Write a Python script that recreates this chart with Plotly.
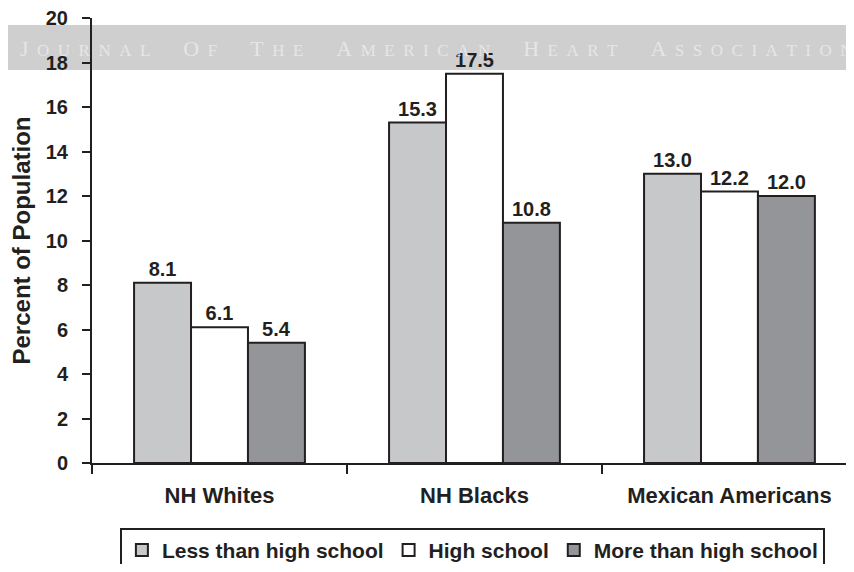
import plotly.graph_objects as go

categories = ["NH Whites", "NH Blacks", "Mexican Americans"]
series_names = ["Less than high school", "High school", "More than high school"]
less_than_hs = [8.1, 15.3, 13.0]
high_school = [6.1, 17.5, 12.2]
more_than_hs = [5.4, 10.8, 12.0]
y_ticks = [0, 2, 4, 6, 8, 10, 12, 14, 16, 18, 20]
watermark = "JOURNAL OF THE AMERICAN HEART ASSOCIATION"

FONT = "Liberation Sans, Arial"
INK = "#231f20"
colors = ["#c7c8ca", "#ffffff", "#939598"]
xpos = list(range(len(categories)))

GAP = "<span style='font-size:17px'>\u2002</span>"


def small_caps(s):
    # letter-spaced small caps, like the journal's banner
    out = []
    for word in s.split(" "):
        letters = [word[0]] + [f"<span style='font-size:17px'>{ch}</span>" for ch in word[1:]]
        out.append(GAP.join(letters))
    return "\u2003\u2002".join(out)


fig = go.Figure()

# faint journal watermark, drawn first so the bars sit on top of it
fig.add_trace(go.Scatter(
    x=[0.85], y=[18.56], mode="text", text=[small_caps(watermark)],
    textfont=dict(family="Liberation Serif, DejaVu Serif", size=22, color="#e6e6e6"),
    showlegend=False, hoverinfo="skip", cliponaxis=False))

for name, vals, c in zip(series_names, [less_than_hs, high_school, more_than_hs], colors):
    fig.add_trace(go.Bar(
        x=xpos, y=vals, name=name,
        marker=dict(color=c, line=dict(color=INK, width=2)),
        text=[f"<b>{v:.1f}</b>" for v in vals], textposition="outside",
        textfont=dict(family=FONT, size=20, color=INK),
        cliponaxis=False))

fig.update_layout(
    width=838, height=556,
    barmode="group", bargap=0.33, bargroupgap=0,
    paper_bgcolor="white", plot_bgcolor="rgba(0,0,0,0)",
    margin=dict(l=84, r=0, t=10, b=101, autoexpand=False),
    font=dict(family=FONT, size=20, color=INK),
    showlegend=True,
    legend=dict(orientation="h", x=0.037, y=-0.146, xanchor="left", yanchor="top",
                bordercolor=INK, borderwidth=2, bgcolor="white",
                font=dict(family=FONT, size=21, color=INK, weight="bold"),
                itemwidth=30, traceorder="normal"),
    shapes=[dict(type="rect", xref="paper", yref="paper", x0=-0.12, x1=1.01,
                 y0=(455 - 62) / 445, y1=(455 - 17) / 445,
                 fillcolor="#cfcfcf", line=dict(width=0), layer="below")],
    annotations=[dict(text="<b>Percent of Population</b>", textangle=-90,
                      xref="paper", yref="paper", x=(13 - 84) / 754, y=0.5,
                      xanchor="center", yanchor="middle", showarrow=False,
                      font=dict(family=FONT, size=24, color=INK))],
)

fig.update_xaxes(
    range=[-0.5, 2.457], tickvals=xpos, ticktext=[f"<b>{c}</b>" for c in categories], ticks="",
    showline=True, linecolor=INK, linewidth=2, showgrid=False, zeroline=False,
    tickfont=dict(family=FONT, size=22, color=INK), automargin=False,
    minor=dict(tickvals=[-0.5, 0.5, 1.5, 2.5], ticks="outside", ticklen=9,
               tickwidth=2, tickcolor=INK, showgrid=False),
    ticklabelstandoff=12,
)
fig.update_yaxes(
    range=[0, 20], tickvals=y_ticks, ticktext=[f"<b>{t}</b>" for t in y_ticks],
    ticks="outside", ticklen=8, tickwidth=2,
    tickcolor=INK, showline=True, linecolor=INK, linewidth=2,
    showgrid=False, zeroline=False, automargin=False, ticklabeloverflow="allow",
    tickfont=dict(family=FONT, size=20, color=INK), ticklabelstandoff=10,
)

fig.write_html("out.html")
